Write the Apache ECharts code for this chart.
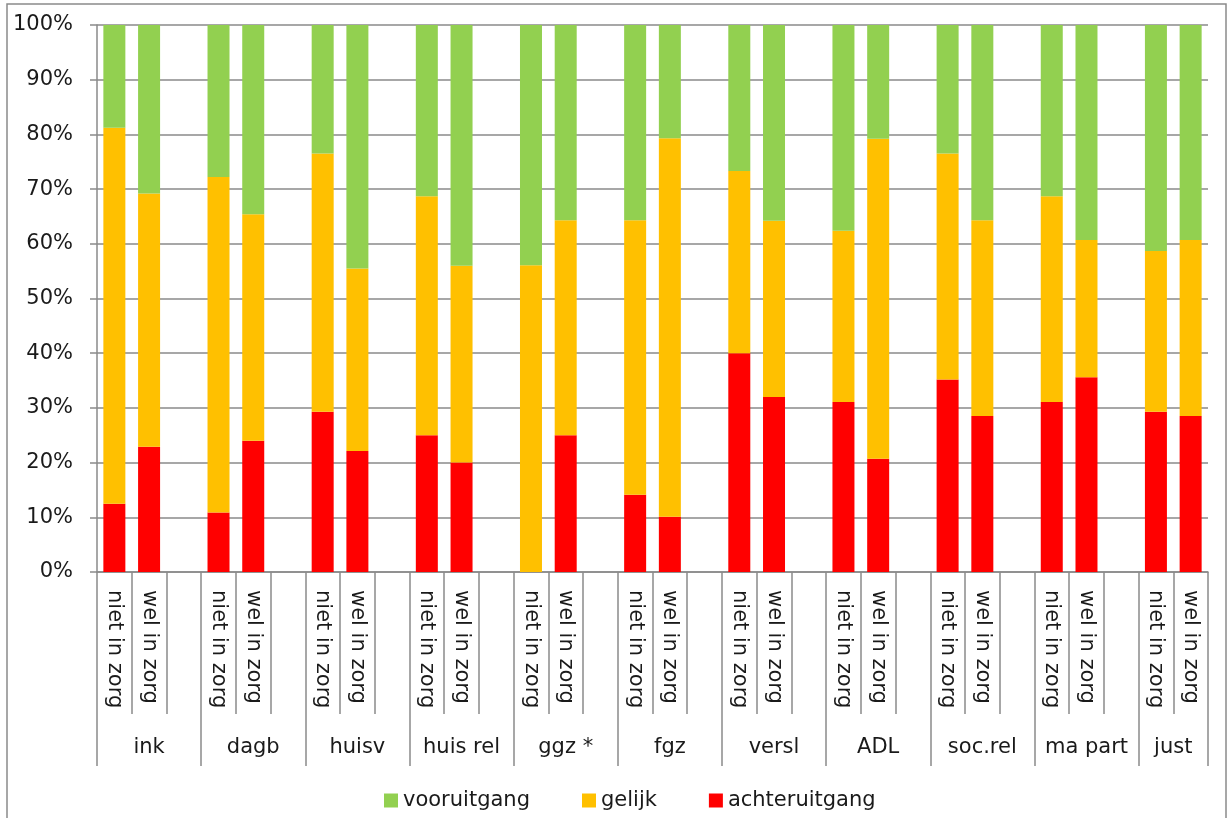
<!DOCTYPE html>
<html>
<head>
<meta charset="utf-8">
<script src="https://cdn.jsdelivr.net/npm/echarts@6/dist/echarts.min.js"></script>
<style>
  html, body { margin: 0; padding: 0; background: #ffffff; }
  #chart { width: 1228px; height: 818px; }
</style>
</head>
<body>
<div id="chart"></div>
<script>
// Domains (outer axis level) and care status (inner axis level)
const groups = ['ink', 'dagb', 'huisv', 'huis rel', 'ggz *', 'fgz', 'versl', 'ADL', 'soc.rel', 'ma part', 'just'];
const subgroups = ['niet in zorg', 'wel in zorg'];

// Share of clients per outcome, in %, as [niet in zorg, wel in zorg] per domain
const achteruitgang = [
  [12.5, 22.9], [10.9, 24.0], [29.3, 22.1], [25.0, 20.0], [0.0, 25.0], [14.1, 10.1],
  [40.0, 32.0], [31.1, 20.7], [35.2, 28.5], [31.1, 35.6], [29.3, 28.5]
];
const gelijk = [
  [68.7, 46.3], [61.3, 41.4], [47.2, 33.4], [43.7, 36.0], [56.1, 39.3], [50.2, 69.2],
  [33.3, 32.2], [31.3, 58.5], [41.3, 35.8], [37.6, 25.1], [29.4, 32.2]
];
const vooruitgang = [
  [18.8, 30.8], [27.8, 34.6], [23.5, 44.5], [31.3, 44.0], [43.9, 35.7], [35.7, 20.7],
  [26.7, 35.8], [37.6, 20.8], [23.5, 35.7], [31.3, 39.3], [41.3, 39.3]
];

const seriesNames = ['vooruitgang', 'gelijk', 'achteruitgang'];
const colors = { vooruitgang: '#92D050', gelijk: '#FFC000', achteruitgang: '#FF0000' };

const FONT = 'DejaVu Sans';
const TEXT_COLOR = '#1a1a1a';
const GRID_COLOR = '#8a8a8a';

// Inner category axis: two bars per domain, an empty slot between domains
const categories = [];
groups.forEach((g, i) => {
  categories.push(subgroups[0], subgroups[1]);
  if (i < groups.length - 1) categories.push('');
});

function flatten(rows) {
  const out = [];
  rows.forEach((pair, i) => {
    out.push(pair[0], pair[1]);
    if (i < rows.length - 1) out.push(null);
  });
  return out;
}

// Outer axis on half-category steps so domain names sit centred under their bars
const halfSteps = categories.length * 2 + 1;
const outerLabels = new Array(halfSteps).fill('');
const boundaries = new Set();
let pos = 0;
groups.forEach((g, i) => {
  const span = i < groups.length - 1 ? 3 : 2;
  boundaries.add(pos * 2);
  outerLabels[pos * 2 + span] = g;
  pos += span;
});
boundaries.add(pos * 2);

const chart = echarts.init(document.getElementById('chart'));

chart.setOption({
  animation: false,
  backgroundColor: '#ffffff',
  textStyle: { fontFamily: FONT, color: TEXT_COLOR },
  graphic: [{
    type: 'rect',
    shape: { x: 7, y: 4, width: 1219, height: 830 },
    style: { fill: 'none', stroke: GRID_COLOR, lineWidth: 1.5 },
    silent: true
  }],
  legend: {
    data: seriesNames,
    left: 379,
    top: 785,
    itemWidth: 14,
    itemHeight: 14,
    itemGap: 52,
    icon: 'rect',
    textStyle: { fontFamily: FONT, fontSize: 21, color: TEXT_COLOR }
  },
  grid: {
    left: 97,
    right: 20,
    top: 25,
    bottom: 246,
    containLabel: false,
    outerBoundsMode: 'none'
  },
  xAxis: [{
    type: 'category',
    data: categories,
    position: 'bottom',
    axisLine: { show: true, lineStyle: { color: GRID_COLOR, width: 1.5 } },
    axisTick: { show: true, interval: 0, length: 142, lineStyle: { color: GRID_COLOR, width: 1.5 } },
    axisLabel: {
      interval: 0,
      rotate: -90,
      margin: 18,
      fontFamily: FONT,
      fontSize: 21,
      color: TEXT_COLOR
    },
    splitLine: { show: false }
  }, {
    type: 'category',
    data: outerLabels,
    boundaryGap: false,
    position: 'bottom',
    axisLine: { show: false },
    axisTick: {
      show: true,
      interval: (idx) => boundaries.has(idx),
      length: 194,
      lineStyle: { color: GRID_COLOR, width: 1.5 }
    },
    axisLabel: {
      interval: 0,
      margin: 165,
      fontFamily: FONT,
      fontSize: 21,
      color: TEXT_COLOR
    },
    splitLine: { show: false }
  }],
  yAxis: {
    type: 'value',
    min: 0,
    max: 100,
    interval: 10,
    axisLine: { show: true, lineStyle: { color: GRID_COLOR, width: 1.5 } },
    axisTick: { show: true, length: 7, lineStyle: { color: GRID_COLOR, width: 1.5 } },
    axisLabel: {
      formatter: '{value}%',
      margin: 24,
      fontFamily: FONT,
      fontSize: 21,
      color: TEXT_COLOR
    },
    splitLine: { show: true, lineStyle: { color: GRID_COLOR, width: 1.5 } }
  },
  series: [
    { name: 'achteruitgang', data: flatten(achteruitgang) },
    { name: 'gelijk', data: flatten(gelijk) },
    { name: 'vooruitgang', data: flatten(vooruitgang) }
  ].map(s => ({
    type: 'bar',
    name: s.name,
    stack: 'total',
    xAxisIndex: 0,
    barWidth: 22,
    data: s.data,
    itemStyle: { color: colors[s.name] },
    emphasis: { disabled: true }
  }))
});
</script>
</body>
</html>
